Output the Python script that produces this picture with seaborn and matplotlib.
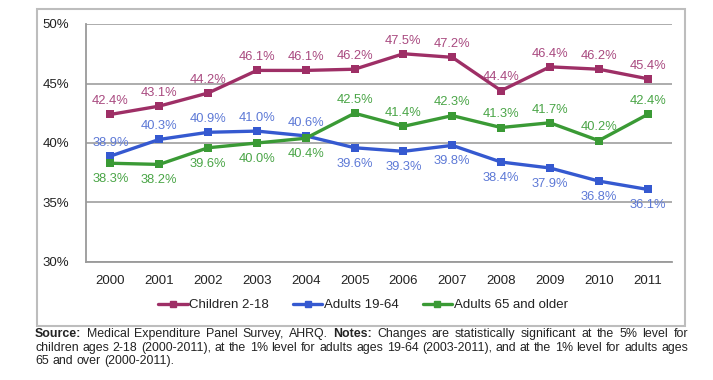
import pandas as pd
import matplotlib.pyplot as plt
import seaborn as sns
from matplotlib.lines import Line2D
from matplotlib.patches import Rectangle

years = [2000, 2001, 2002, 2003, 2004, 2005, 2006, 2007, 2008, 2009, 2010, 2011]
children = [42.4, 43.1, 44.2, 46.1, 46.1, 46.2, 47.5, 47.2, 44.4, 46.4, 46.2, 45.4]
adults = [38.9, 40.3, 40.9, 41.0, 40.6, 39.6, 39.3, 39.8, 38.4, 37.9, 36.8, 36.1]
seniors = [38.3, 38.2, 39.6, 40.0, 40.4, 42.5, 41.4, 42.3, 41.3, 41.7, 40.2, 42.4]
names = ["Children 2-18", "Adults 19-64", "Adults 65 and older"]

# label above (+1) or below (-1) each point
pos_children = [1] * 12
pos_adults = [1, 1, 1, 1, 1, -1, -1, -1, -1, -1, -1, -1]
pos_seniors = [-1, -1, -1, -1, -1, 1, 1, 1, 1, 1, 1, 1]

line_cols = ["#9E2F66", "#3559D0", "#3A9A35"]
text_cols = ["#A94A80", "#5D79D6", "#4AA547"]

sns.set_style("white")
plt.rcParams['font.family'] = ['Liberation Sans', 'DejaVu Sans']

W, H = 713, 380
fig = plt.figure(figsize=(W / 100, H / 100), dpi=100)
ax = fig.add_axes([86 / W, 1 - 262 / H, 586 / W, 238 / H])

idx = list(range(len(years)))
df = pd.concat([
    pd.DataFrame({"pos": idx, "val": v, "series": n})
    for v, n in zip([children, adults, seniors], names)
])

sns.lineplot(data=df, x="pos", y="val", hue="series", style="series",
             palette=line_cols, markers=["s", "s", "s"], dashes=False,
             markersize=6, markeredgewidth=0, linewidth=2.4, legend=False, ax=ax)

for vals, poss, col in zip([children, adults, seniors],
                           [pos_children, pos_adults, pos_seniors], text_cols):
    for i, (v, p) in enumerate(zip(vals, poss)):
        off = 9.5 if p > 0 else -11.5
        ax.annotate(f"{v:.1f}%", (i, v), xytext=(0, off), textcoords="offset points",
                    ha="center", va="center", fontsize=9.3, color=col)

ax.set_xlim(-0.5, 11.5)
ax.set_ylim(30, 50)
ax.set_yticks([30, 35, 40, 45, 50])
ax.set_yticklabels([f"{t}%" for t in [30, 35, 40, 45, 50]])
ax.set_xticks(idx)
ax.set_xticklabels([str(y) for y in years])
ax.set_xticks([i - 0.5 for i in range(13)], minor=True)
ax.set_xlabel("")
ax.set_ylabel("")
ax.yaxis.grid(True, color="#A6A6A6", linewidth=1.3)
ax.set_axisbelow(True)
for s in ["top", "right"]:
    ax.spines[s].set_visible(False)
for s in ["left", "bottom"]:
    ax.spines[s].set_color("#9A9A9A")
    ax.spines[s].set_linewidth(1.3)
ax.tick_params(axis="x", which="major", length=0, pad=9, labelsize=9.5, labelcolor="#222222")
ax.tick_params(axis="x", which="minor", length=3, width=1, color="#9A9A9A", direction="out")
ax.tick_params(axis="y", length=4, width=1, color="#9A9A9A", pad=8, labelsize=9.5, labelcolor="#222222")

handles = [Line2D([], [], color=c, marker="s", markersize=4, linewidth=2.4) for c in line_cols]
fig.legend(handles, names, loc="center", bbox_to_anchor=(363 / W, 1 - 305 / H), ncol=3,
           frameon=False, fontsize=9.5, handlelength=2.2, handletextpad=0.15,
           columnspacing=1.8, labelcolor="#222222")

fig.patches.append(Rectangle((37 / W, 1 - 326 / H), 648 / W, 317 / H, transform=fig.transFigure,
                             fill=False, edgecolor="#BDBDBD", linewidth=1.5))

# footnote, justified like the original
lines = [
    [("Source:", True), ("Medical", False), ("Expenditure", False), ("Panel", False), ("Survey,", False),
     ("AHRQ.", False), ("Notes:", True), ("Changes", False), ("are", False), ("statistically", False),
     ("significant", False), ("at", False), ("the", False), ("5%", False), ("level", False), ("for", False)],
    [(w, False) for w in "children ages 2-18 (2000-2011), at the 1% level for adults ages 19-64 "
                         "(2003-2011), and at the 1% level for adults ages".split()],
    [(w, False) for w in "65 and over (2000-2011).".split()],
]
ys = [334, 348, 361]
fig.canvas.draw()
r = fig.canvas.get_renderer()
x0, x1 = 35, 688
for k, (words, yp) in enumerate(zip(lines, ys)):
    texts = [fig.text(0, 1 - yp / H, w, fontsize=8.9, color="#222222", va="center",
                      fontweight="bold" if b else "normal") for w, b in words]
    widths = [t.get_window_extent(r).width for t in texts]
    if k < 2:
        gap = (x1 - x0 - sum(widths)) / (len(words) - 1)
    else:
        gap = 3.4
    x = x0
    for t, w in zip(texts, widths):
        t.set_x(x / W)
        x += w + gap

fig.savefig("out.png", dpi=100)
